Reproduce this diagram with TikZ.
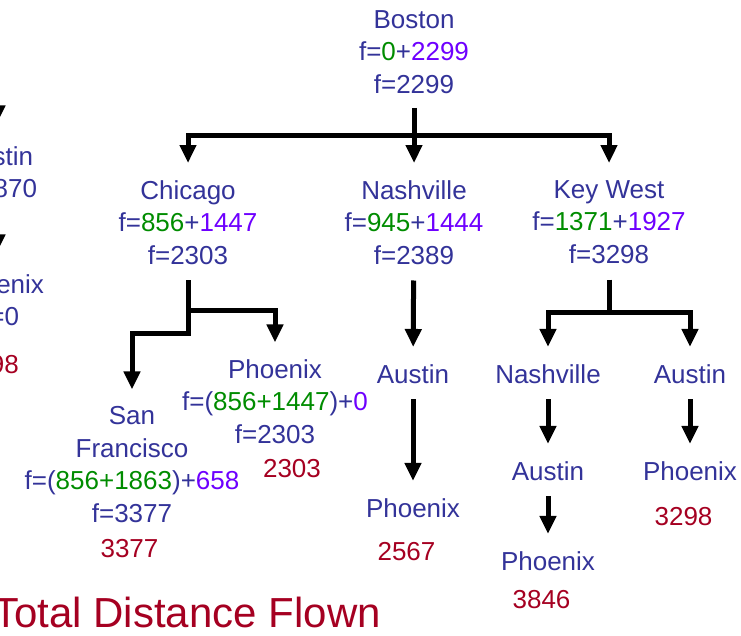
\documentclass[tikz,border=0pt]{standalone}
\usepackage{fontspec}
\setmainfont{Liberation Sans}
\usetikzlibrary{arrows.meta}
\definecolor{cityblue}{RGB}{51,51,153}
\definecolor{gpart}{RGB}{0,140,0}
\definecolor{hpart}{RGB}{110,0,255}
\definecolor{totalred}{RGB}{165,0,33}
\newcommand\gcost[1]{\textcolor{gpart}{#1}}
\newcommand\hcost[1]{\textcolor{hpart}{#1}}
\begin{document}
\begin{tikzpicture}[x=1pt,y=-1pt,
  lbl/.style={font=\fontsize{26}{32.5}\selectfont, text=cityblue, inner sep=0pt},
  stack/.style={lbl, align=center, anchor=north},
  place/.style={lbl, anchor=base},
  dist/.style={lbl, text=totalred, anchor=base},
  link/.style={line width=5pt},
  tree/.style={link, -{Triangle[width=16pt,length=18pt]}},
  from/.style={shorten <=16pt},
  into/.style={shorten >=17pt}]
\useasboundingbox (0,0) rectangle (741,635);
\clip (0,0) rectangle (741,635);

% root and first level
\node[stack] (boston) at (414,10.3) {Boston\\f=\gcost{0}+\hcost{2299}\\f=2299};
\node[stack] (chicago) at (188,180) {Chicago\\f=\gcost{856}+\hcost{1447}\\f=2303};
\node[stack] (nashville) at (414,180) {Nashville\\f=\gcost{945}+\hcost{1444}\\f=2389};
\node[stack] (keywest) at (609,180) {Key West\\f=\gcost{1371}+\hcost{1927}\\f=3298};

% below Chicago
\node[stack] (phoenixA) at (275,359.3) {Phoenix\\f=(\gcost{856+1447})+\hcost{0}\\f=2303};
\node[dist] (rA) at (292,477) {2303};
\node[stack] (sanfran) at (132,406.3) {San\\Francisco\\f=(\gcost{856+1863})+\hcost{658}\\f=3377};
\node[dist] (rSF) at (129.5,557) {3377};

% below Nashville
\node[place] (austinB) at (413,383) {Austin};
\node[place] (phoenixB) at (413,517) {Phoenix};
\node[dist] (rB) at (406.5,560) {2567};

% below Key West
\node[place] (nashC) at (548,383) {Nashville};
\node[place] (austinC) at (548,480) {Austin};
\node[place] (phoenixC) at (548,570) {Phoenix};
\node[dist] (rC) at (541.5,608) {3846};
\node[place] (austinD) at (690,383) {Austin};
\node[place] (phoenixD) at (690,480) {Phoenix};
\node[dist] (rD) at (683.5,525) {3298};

% neighbouring branch at the left edge
\node[stack] (austinL) at (-3,146.3) {Austin\\f=3870};
\node[stack] (phoenixL) at (-3,274.3) {Phoenix\\h=0};
\node[dist] (rL) at (-10,373) {3298};

\node[anchor=base east, inner sep=0pt, text=totalred,
  font=\fontsize{42}{50}\selectfont] (title) at (381,627) {Total Distance Flown};

% junction points
\coordinate (bsplit) at (414,135);
\coordinate (csplit) at (188,310);
\coordinate (cstep) at (188,333);
\coordinate (ksplit) at (609,312);
\coordinate (upL) at (-3,80);

% connectors
\draw[link, shorten <=14pt] (boston) -- (bsplit);
\draw[tree, into] (bsplit) -| (chicago);
\draw[tree, into] (bsplit) -- (nashville);
\draw[tree, into] (bsplit) -| (keywest);

\draw[tree, from, into] (chicago) -- (cstep) -| (sanfran);
\draw[tree, into] (csplit) -| (phoenixA);

\draw[tree, from, into] (nashville) -- (austinB);
\draw[tree, from, into] (austinB) -- (phoenixB);

\draw[link, from] (keywest) -- (ksplit);
\draw[tree, into] (ksplit) -| (nashC);
\draw[tree, into] (ksplit) -| (austinD);
\draw[tree, from, into] (nashC) -- (austinC);
\draw[tree, from, into] (austinC) -- (phoenixC);
\draw[tree, from, into] (austinD) -- (phoenixD);

\draw[tree, shorten >=23pt] (upL) -- (austinL);
\draw[tree, from, shorten >=22pt] (austinL) -- (phoenixL);
\end{tikzpicture}
\end{document}
